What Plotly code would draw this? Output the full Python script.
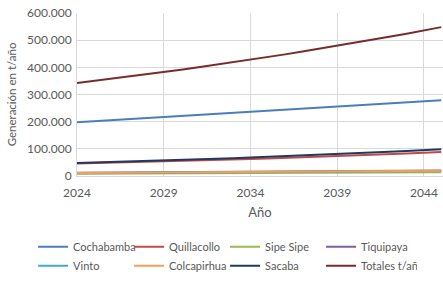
import plotly.graph_objects as go

years = list(range(2024, 2046))

cochabamba = [198000, 201900, 205700, 209600, 213400, 217300, 221200, 225000, 228900, 232700, 236600,
              240500, 244300, 248200, 252000, 255900, 259800, 263600, 267500, 271300, 275200, 279100]
quillacollo = [46000, 47400, 48900, 50500, 52100, 53700, 55400, 57100, 58900, 60800, 62700,
               64700, 66700, 68800, 71000, 73200, 75500, 77900, 80300, 82900, 85500, 88000]
sipe_sipe = [8000, 8200, 8500, 8700, 9000, 9200, 9500, 9800, 10000, 10300, 10600,
             10900, 11200, 11500, 11800, 12100, 12400, 12700, 13000, 13300, 13600, 14000]
tiquipaya = [12000, 12300, 12700, 13000, 13400, 13700, 14100, 14500, 14900, 15300, 15700,
             16100, 16500, 16900, 17300, 17700, 18100, 18500, 18900, 19300, 19700, 20100]
vinto = [10000, 10300, 10700, 11000, 11400, 11700, 12100, 12500, 12900, 13300, 13700,
         14100, 14500, 14900, 15300, 15700, 16100, 16500, 16900, 17300, 17700, 18100]
colcapirhua = [11000, 11300, 11700, 12000, 12400, 12700, 13100, 13500, 13900, 14300, 14700,
               15100, 15500, 15900, 16300, 16700, 17100, 17500, 17900, 18300, 18700, 19100]
sacaba = [48000, 49700, 51400, 53200, 55100, 57000, 59000, 61100, 63200, 65400, 67700,
          70100, 72500, 75100, 77700, 80400, 83200, 86100, 89100, 92300, 95500, 98800]
totales = [342000, 349800, 357700, 365800, 374100, 382600, 391300, 400200, 409300, 418600, 428100,
           437800, 447700, 457900, 468300, 478900, 489800, 500900, 512300, 523900, 535800, 548000]

series = [
    ("Cochabamba", cochabamba, "#4a7ebb"),
    ("Quillacollo", quillacollo, "#be4b48"),
    ("Sipe Sipe", sipe_sipe, "#98b954"),
    ("Tiquipaya", tiquipaya, "#7d60a0"),
    ("Vinto", vinto, "#46aac5"),
    ("Colcapirhua", colcapirhua, "#f59d56"),
    ("Sacaba", sacaba, "#1f3864"),
    ("Totales t/año", totales, "#772c2a"),
]

fig = go.Figure()
for name, vals, color in series:
    fig.add_trace(go.Scatter(x=years, y=vals, name=name, mode="lines",
                             line=dict(color=color, width=2)))

font_family = "Lato, Liberation Sans, sans-serif"
fig.update_layout(
    width=443, height=283,
    margin=dict(l=77, r=0, t=13, b=107, autoexpand=False),
    paper_bgcolor="white", plot_bgcolor="white",
    separators=",.",
    font=dict(family=font_family, size=12, color="#595959"),
    showlegend=True,
    legend=dict(orientation="h", xref="paper", yref="paper",
                x=-0.12, y=-0.345, xanchor="left", yanchor="top",
                entrywidth=51, entrywidthmode="pixels",
                font=dict(size=11, color="#595959"),
                itemwidth=30, tracegroupgap=0),
    annotations=[dict(text="Generación en t/año", textangle=-90,
                      xref="paper", yref="paper", x=-0.178, y=0.5,
                      xanchor="center", yanchor="middle", showarrow=False,
                      font=dict(size=11.5, color="#595959"))],
)
fig.update_xaxes(
    range=[2024, 2045.1], tick0=2024, dtick=5, automargin=False,
    showgrid=True, gridcolor="#d9d9d9", gridwidth=1,
    showline=True, linecolor="#d9d9d9", zeroline=False,
    ticks="", ticklabelstandoff=6, tickfont=dict(size=12, color="#595959"),
    title=dict(text="Año", font=dict(size=13, color="#595959"), standoff=8),
)
fig.update_yaxes(
    range=[0, 600000], dtick=100000, tickformat=",d", automargin=False,
    showgrid=True, gridcolor="#d9d9d9", gridwidth=1,
    showline=True, linecolor="#d9d9d9", zeroline=False,
    ticks="", ticklabelstandoff=2, tickfont=dict(size=12, color="#595959"),
)

fig.write_html("out.html", config={"displayModeBar": False},
               post_script="document.body.style.margin='0';")
